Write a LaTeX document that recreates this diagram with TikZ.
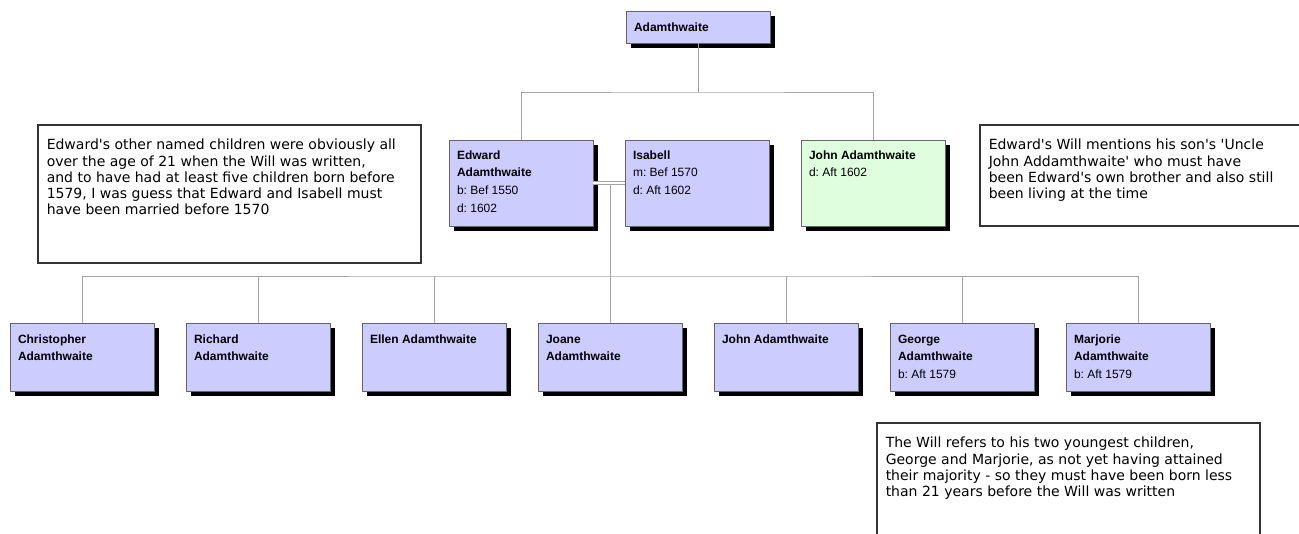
\documentclass[tikz,border=0pt]{standalone}
\usepackage{fontspec}
\usepackage{tikz}
\usetikzlibrary{positioning,shadows}
\newfontfamily\boxFont{Liberation Sans}
\newfontfamily\noteFont{DejaVu Sans}
\definecolor{boxFill}{HTML}{CCCCFF}
\definecolor{kinFill}{HTML}{DEFEDE}
\definecolor{boxLine}{HTML}{666666}
\definecolor{linkLine}{HTML}{A4A4A4}
\newcommand{\personText}[1]{\parbox[t]{128pt}{#1}}
\newcommand{\noteText}[2]{\parbox[t]{#1}{#2}}
\frenchspacing

\begin{document}
\begin{tikzpicture}[x=1pt, y=-1pt]
  \tikzset{person/.style={draw=boxLine, line width=0.8pt, fill=boxFill, anchor=north west,
      inner xsep=8pt, inner ysep=0pt, outer sep=0pt, text height=19pt, text depth=67pt,
      font=\boxFont\fontsize{12}{17.7}\selectfont,
      drop shadow={fill=black, opacity=1, shadow xshift=4.5pt, shadow yshift=-4.5pt}},
    child/.style={person, text height=20pt, text depth=48pt},
    note/.style={draw=black!80, line width=1.5pt, fill=white, anchor=north west,
      inner xsep=9pt, inner ysep=0pt, text height=25pt, font=\noteFont\fontsize{14}{16.3}\selectfont},
    link/.style={draw=linkLine, line width=0.8pt}}
  \useasboundingbox (0,0) rectangle (1299,533);

  \node[person, text height=20pt, text depth=12pt] (top) at (626,11)
    {\personText{\textbf{Adamthwaite}}};

  \node[person] (edward) at (449,140)
    {\personText{\textbf{Edward}\\\textbf{Adamthwaite}\\b: Bef 1550\\d: 1602}};
  \node[person, right=32pt of edward] (isabell)
    {\personText{\textbf{Isabell}\\m: Bef 1570\\d: Aft 1602}};
  \node[person, fill=kinFill, right=32pt of isabell] (john)
    {\personText{\textbf{John Adamthwaite}\\d: Aft 1602}};

  \node[child] (christopher) at (10,323)
    {\personText{\textbf{Christopher}\\\textbf{Adamthwaite}}};
  \node[child, right=32pt of christopher] (richard)
    {\personText{\textbf{Richard}\\\textbf{Adamthwaite}}};
  \node[child, right=32pt of richard] (ellen)
    {\personText{\textbf{Ellen Adamthwaite}}};
  \node[child, right=32pt of ellen] (joane)
    {\personText{\textbf{Joane}\\\textbf{Adamthwaite}}};
  \node[child, right=32pt of joane] (johnj)
    {\personText{\textbf{John Adamthwaite}}};
  \node[child, right=32pt of johnj] (george)
    {\personText{\textbf{George}\\\textbf{Adamthwaite}\\b: Aft 1579}};
  \node[child, right=32pt of george] (marjorie)
    {\personText{\textbf{Marjorie}\\\textbf{Adamthwaite}\\b: Aft 1579}};

  \draw[link] (top.south) -- ++(0,49) coordinate (sib);
  \draw[link] (edward.north) |- (sib) -| (john.north);

  \coordinate (kids) at (joane.north |- 0,276);
  \draw[link] (joane.north |- edward.east) -- (kids);
  \draw[link, double=white, double distance=2.6pt] (edward.east) -- (isabell.west);
  \draw[link] (christopher.north) |- (kids) -| (marjorie.north);
  \foreach \kid in {richard,ellen,joane,johnj,george}
    \draw[link] (\kid.north) -- (\kid.north |- kids);

  \node[note, text depth=113pt] (why) at (37,124)
    {\noteText{365pt}{Edward's other named children were obviously all\\
      over the age of 21 when the Will was written,\\
      and to have had at least five children born before\\
      1579, I was guess that Edward and Isabell must\\
      have been married before 1570}};
  \node[note, text depth=76pt] (uncle) at (979,124)
    {\noteText{322pt}{Edward's Will mentions his son's 'Uncle\\
      John Addamthwaite' who must have\\
      been Edward's own brother and also still\\
      been living at the time}};
  \node[note, text depth=113pt] (youngest) at (876,422)
    {\noteText{365pt}{The Will refers to his two youngest children,\\
      George and Marjorie, as not yet having attained\\
      their majority - so they must have been born less\\
      than 21 years before the Will was written}};
\end{tikzpicture}
\end{document}
